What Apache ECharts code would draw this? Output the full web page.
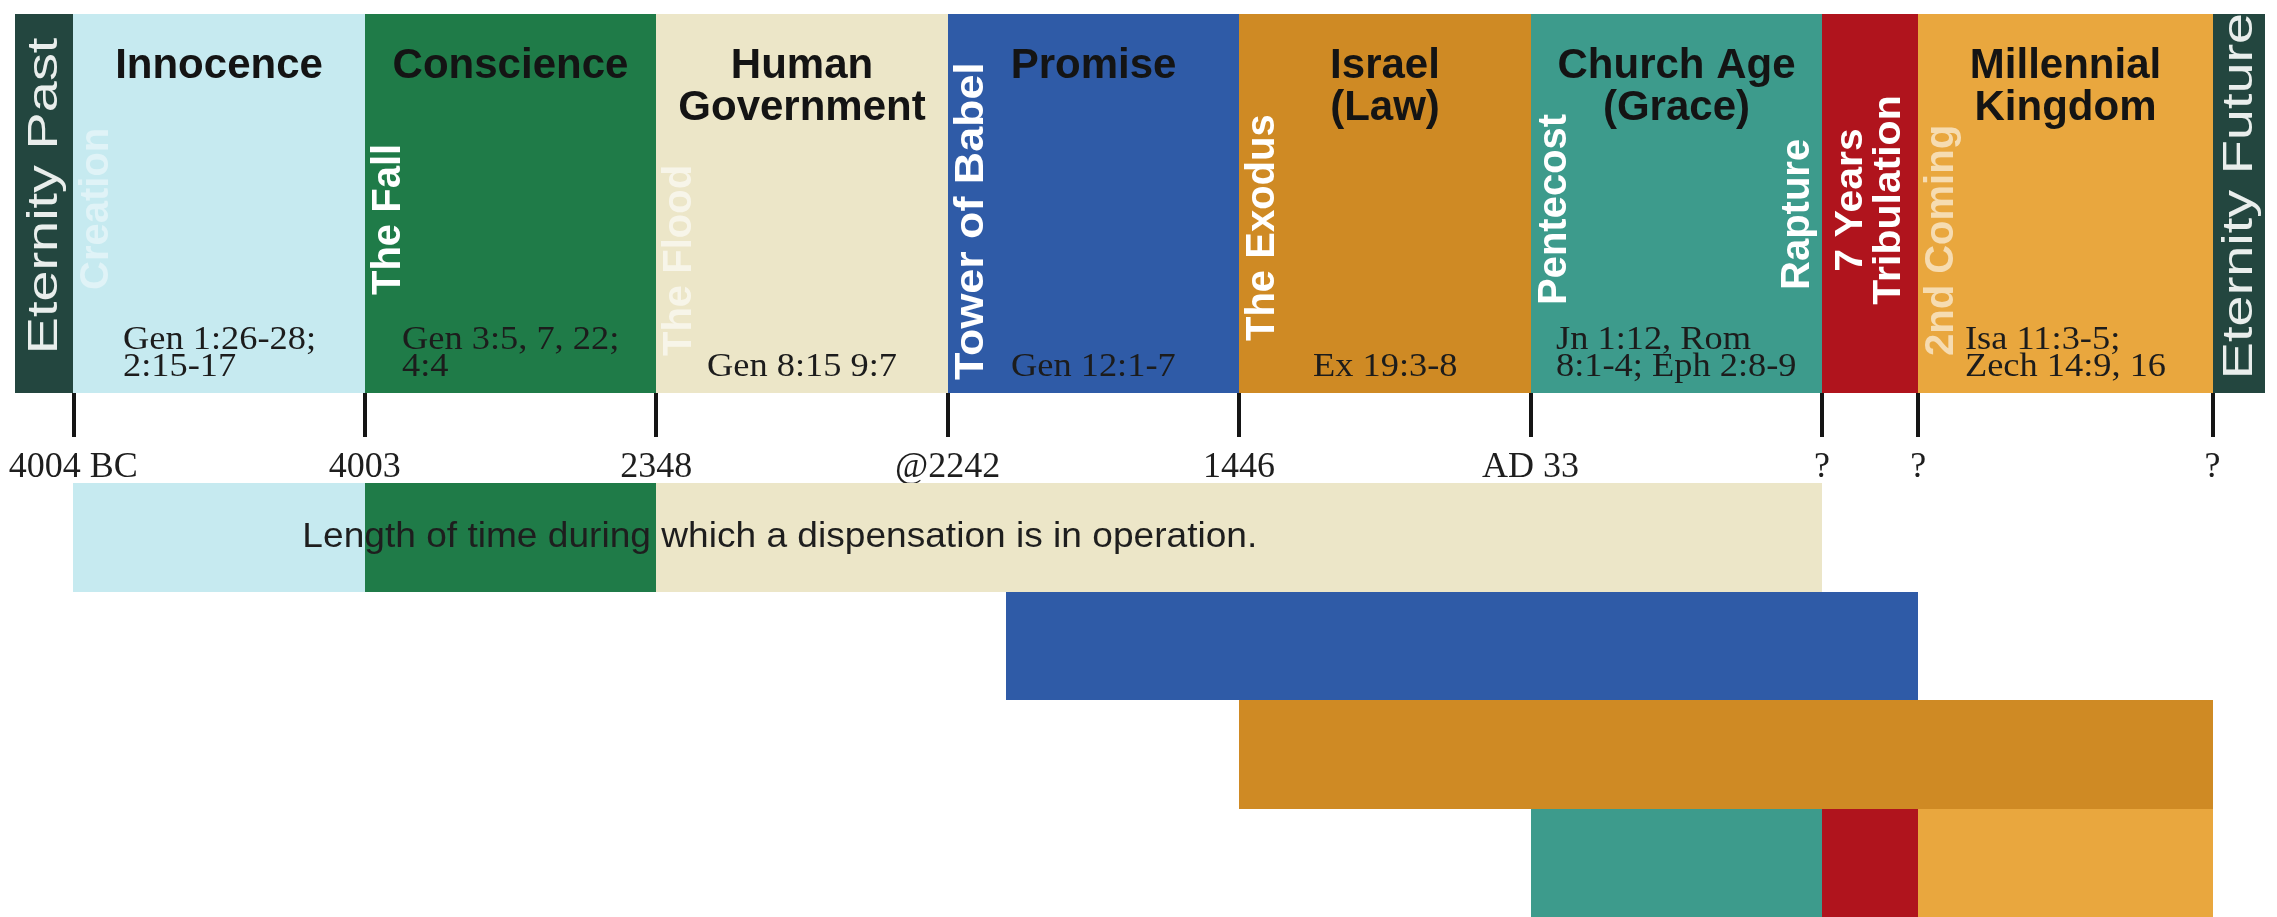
<!DOCTYPE html>
<html>
<head>
<meta charset="utf-8">
<script src="https://cdn.jsdelivr.net/npm/echarts@6/dist/echarts.min.js"></script>
<style>
html,body{margin:0;padding:0;background:#ffffff;}
#chart{width:2277px;height:917px;}
</style>
</head>
<body>
<div id="chart"></div>
<script>
// ---------------- DATA ----------------
// Timeline positions are in "dispensation slots" (each main dispensation = 1 slot)
const tickPositions = [0, 1, 2, 3, 4, 5, 6, 6.33, 7.34];
const tickLabels = ['4004 BC', '4003', '2348', '@2242', '1446', 'AD 33', '?', '?', '?'];

const periodNames = ['Eternity Past', 'Innocence', 'Conscience', 'Human\nGovernment', 'Promise',
  'Israel\n(Law)', 'Church Age\n(Grace)', '7 Years\nTribulation', 'Millennial\nKingdom', 'Eternity Future'];
const periodStart = [-0.2, 0, 1, 2, 3, 4, 5, 6, 6.33, 7.34];
const periodEnd   = [0, 1, 2, 3, 4, 5, 6, 6.33, 7.34, 7.52];
const periodRefs = ['', 'Gen 1:26-28;\n2:15-17', 'Gen 3:5, 7, 22;\n4:4', 'Gen 8:15 9:7', 'Gen 12:1-7',
  'Ex 19:3-8', 'Jn 1:12, Rom\n8:1-4; Eph 2:8-9', '', 'Isa 11:3-5;\nZech 14:9, 16', ''];

const eventNames = ['Creation', 'The Fall', 'The Flood', 'Tower of Babel', 'The Exodus', 'Pentecost', 'Rapture', '2nd Coming'];
const eventAt    = [0, 1, 2, 3, 4, 5, 6, 6.33];

// Duration rows: which dispensation (period index) is in operation, from..to
const durationRow    = [0, 0, 0, 1, 2, 3, 3, 3];
const durationStart  = [0, 1, 2, 3.2, 4, 5, 6, 6.33];
const durationEnd    = [1, 2, 6, 6.33, 7.34, 6, 6.33, 7.34];
const durationPeriod = [1, 2, 3, 4, 5, 6, 7, 8];
const durationNote = 'Length of time during which a dispensation is in operation.';
const rowNames = ['r1', 'r2', 'r3', 'r4'];

// ---------------- STYLE ----------------
const periodColors = ['#23463f', '#c6eaf0', '#1f7b48', '#ece6c8', '#2f5ba7', '#cf8a24',
  '#3d9b8c', '#b0141d', '#e9a73e', '#23463f'];
const periodMode = ['eternity', 'title', 'title', 'title', 'title', 'title', 'title', 'vtitle', 'title', 'eternity'];
const eventSide   = [1, 1, 1, 1, 1, 1, -1, 1];
const eventBottom = [290, 295, 356, 380, 341, 305, 290, 356];
const eventScale  = [1, 1, 1, 1.12, 1, 1, 1, 1];
const eventColor  = ['rgba(255,255,255,0.45)', '#ffffff', 'rgba(255,255,255,0.6)', '#ffffff', '#ffffff',
  '#ffffff', '#ffffff', 'rgba(255,255,255,0.6)'];

const SANS = "'Liberation Sans', Arial, sans-serif";
const SERIF = "'Liberation Serif', 'Times New Roman', serif";
const REF_SIZE = 34, REF_SCALE = 1.07;

const measureCtx = document.createElement('canvas').getContext('2d');
function maxLineWidth(text, font) {
  measureCtx.font = font;
  return Math.max.apply(null, text.split('\n').map(l => measureCtx.measureText(l).width));
}

const chart = echarts.init(document.getElementById('chart'), null, {renderer: 'canvas'});

function renderBand(params, api) {
  const i = api.value(2);
  const p0 = api.coord([api.value(0), 1]);
  const p1 = api.coord([api.value(1), 0]);
  const x0 = Math.round(p0[0]), x1 = Math.round(p1[0]);
  const y0 = Math.round(p0[1]), y1 = Math.round(p1[1]);
  const cx = (x0 + x1) / 2;
  const children = [{
    type: 'rect', shape: {x: x0, y: y0, width: x1 - x0, height: y1 - y0},
    style: {fill: periodColors[i]}
  }];
  const mode = periodMode[i];
  if (mode === 'title') {
    children.push({
      type: 'text', x: cx, y: y0 + 31,
      style: {text: periodNames[i], fill: '#141414', fontSize: 42, fontWeight: 'bold', fontFamily: SANS,
        align: 'center', verticalAlign: 'top', lineHeight: 42}
    });
  } else if (mode === 'vtitle') {
    children.push({
      type: 'text', x: cx, y: y0 + 186, rotation: Math.PI / 2, scaleX: 1.05,
      style: {text: periodNames[i], fill: '#ffffff', fontSize: 39, fontWeight: 'bold', fontFamily: SANS,
        align: 'center', verticalAlign: 'middle', lineHeight: 38}
    });
  } else if (mode === 'eternity') {
    children.push({
      type: 'text', x: cx + 1, y: y0 + 182, rotation: Math.PI / 2, scaleX: 1.33,
      style: {text: periodNames[i], fill: '#e9eeec', fontSize: 42, fontWeight: 'normal', fontFamily: SANS,
        align: 'center', verticalAlign: 'middle'}
    });
  }
  if (periodRefs[i]) {
    const font = REF_SIZE + 'px ' + SERIF;
    const w = maxLineWidth(periodRefs[i], font) * REF_SCALE;
    children.push({
      type: 'text', x: Math.round(cx - w / 2), y: y1 - 12, scaleX: REF_SCALE,
      style: {text: periodRefs[i], fill: '#1c1c1c', fontSize: REF_SIZE, fontFamily: SERIF,
        align: 'left', verticalAlign: 'bottom', lineHeight: 27}
    });
  }
  return {type: 'group', children: children};
}

function renderEvent(params, api) {
  const k = params.dataIndex;
  const p = api.coord([api.value(0), 0]);
  return {
    type: 'text', x: Math.round(p[0]) + eventSide[k] * 24, y: eventBottom[k], rotation: Math.PI / 2,
    scaleX: eventScale[k],
    style: {text: eventNames[k], fill: eventColor[k], fontSize: 40, fontWeight: 'bold', fontFamily: SANS,
      align: 'left', verticalAlign: 'middle'}
  };
}

function renderDuration(params, api) {
  const k = params.dataIndex;
  const c0 = api.coord([api.value(0), api.value(2)]);
  const c1 = api.coord([api.value(1), api.value(2)]);
  const h = api.size([0, 1])[1];
  const x0 = Math.round(c0[0]), x1 = Math.round(c1[0]);
  const y0 = Math.round(c0[1] - h / 2), y1 = Math.round(c0[1] + h / 2);
  return {
    type: 'rect', shape: {x: x0, y: y0, width: x1 - x0, height: y1 - y0},
    style: {fill: periodColors[durationPeriod[k]]}
  };
}

function renderNote(params, api) {
  const p = api.coord([api.value(0), api.value(1)]);
  return {
    type: 'text', x: p[0], y: p[1], scaleX: 1.06,
    style: {text: durationNote, fill: '#1e1e1e', fontSize: 35, fontFamily: SANS,
      align: 'left', verticalAlign: 'middle'}
  };
}

const option = {
  backgroundColor: '#ffffff',
  animation: false,
  grid: [
    {left: 15, right: 12, top: 14, height: 379},
    {left: 15, right: 12, top: 483, height: 434}
  ],
  xAxis: [
    {
      type: 'value', gridIndex: 0, min: -0.2, max: 7.52, position: 'bottom',
      axisLine: {show: false}, splitLine: {show: false},
      axisTick: {show: true, customValues: tickPositions, length: 44, inside: false,
        lineStyle: {color: '#151515', width: 4}},
      axisLabel: {show: true, customValues: tickPositions, margin: 57,
        fontSize: 36, fontFamily: SERIF, color: '#1e1e1e',
        formatter: function (v) {
          for (let i = 0; i < tickPositions.length; i++) {
            if (Math.abs(tickPositions[i] - v) < 1e-6) return tickLabels[i];
          }
          return '';
        }}
    },
    {type: 'value', gridIndex: 1, min: -0.2, max: 7.52, show: false}
  ],
  yAxis: [
    {type: 'value', gridIndex: 0, min: 0, max: 1, show: false},
    {type: 'category', gridIndex: 1, data: rowNames, inverse: true, show: false}
  ],
  series: [
    {
      type: 'custom', xAxisIndex: 0, yAxisIndex: 0, renderItem: renderBand, z: 1,
      encode: {x: [0, 1]},
      data: periodStart.map((s, i) => [s, periodEnd[i], i])
    },
    {
      type: 'custom', xAxisIndex: 0, yAxisIndex: 0, renderItem: renderEvent, z: 3,
      encode: {x: 0},
      data: eventAt.map(v => [v])
    },
    {
      type: 'custom', xAxisIndex: 1, yAxisIndex: 1, renderItem: renderDuration, z: 1,
      encode: {x: [0, 1], y: 2},
      data: durationStart.map((s, k) => [s, durationEnd[k], durationRow[k]])
    },
    {
      type: 'custom', xAxisIndex: 1, yAxisIndex: 1, renderItem: renderNote, z: 4,
      encode: {x: 0, y: 1},
      data: [[0.786, 0]]
    }
  ]
};
chart.setOption(option);
</script>
</body>
</html>
